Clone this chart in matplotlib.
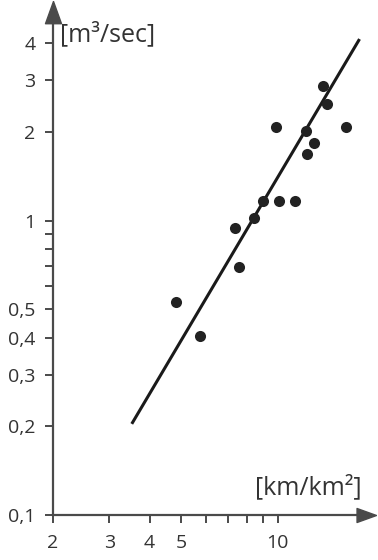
import matplotlib
matplotlib.use("Agg")
import matplotlib.pyplot as plt

# data (log-log)
density = [13.8, 14.2, 9.9, 16.3, 12.2, 13.0, 12.3, 9.0, 10.1, 11.3, 8.45, 7.35, 7.6, 4.83, 5.75]
discharge = [2.86, 2.49, 2.08, 2.08, 2.01, 1.84, 1.69, 1.17, 1.17, 1.17, 1.02, 0.945, 0.695, 0.528, 0.406]

fit_x = [3.52, 17.94]
fit_y = [0.204, 4.14]

xticks = [2, 3, 4, 5, 10]
xticklabels = ["2", "3", "4", "5", "10"]
xminor = [6, 7, 8, 9]
yticks = [0.1, 0.2, 0.3, 0.4, 0.5, 1, 2, 3, 4]
yticklabels = ["0,1", "0,2", "0,3", "0,4", "0,5", "1", "2", "3", "4"]
yminor = [0.6, 0.7, 0.8, 0.9]

axis_col = "#4a4a4a"
text_col = "#333333"

plt.rcParams["font.family"] = ["Open Sans", "DejaVu Sans"]

W, H = 378, 560
fig = plt.figure(figsize=(W / 100, H / 100), dpi=100)
x0, x1 = 52.7, 362
y0, y1 = 515, 17
ax = fig.add_axes([x0 / W, 1 - y0 / H, (x1 - x0) / W, (y0 - y1) / H])

ax.set_xscale("log")
ax.set_yscale("log")
ax.set_xlim(2, 18.26)
ax.set_ylim(0.1, 4.92)

ax.plot(fit_x, fit_y, color="#1a1a1a", lw=2.2, solid_capstyle="butt")
ax.plot(density, discharge, "o", color="#222222", ms=8, mec="none")

ax.set_xticks(xticks)
ax.set_xticklabels(xticklabels)
ax.set_xticks(xminor, minor=True)
ax.set_xticklabels([], minor=True)
ax.set_yticks(yticks)
ax.set_yticklabels(yticklabels)
ax.set_yticks(yminor, minor=True)
ax.set_yticklabels([], minor=True)

for s in ["top", "right"]:
    ax.spines[s].set_visible(False)
for s in ["left", "bottom"]:
    ax.spines[s].set_color(axis_col)
    ax.spines[s].set_linewidth(1.6)

ax.tick_params(which="both", length=5.5, width=1.4, color=axis_col,
               labelsize=14, labelcolor=text_col)
ax.tick_params(axis="x", pad=8.5)
ax.tick_params(axis="y", pad=7)

# arrow heads on the axes
up = [(0, 0), (-0.36, -1), (0.36, -1), (0, 0)]
right = [(0, 0), (-1, 0.36), (-1, -0.36), (0, 0)]
ax.plot([0], [1.0 + 16 / (y0 - y1)], marker=up, ms=32, color=axis_col,
        transform=ax.transAxes, clip_on=False)
ax.plot([1.0 + 14 / (x1 - x0)], [0], marker=right, ms=28, color=axis_col,
        transform=ax.transAxes, clip_on=False)

fig.text(60 / W, 1 - 34 / H, "[m³/sec]", ha="left", va="center",
         fontsize=18, color=text_col)
fig.text(362 / W, 1 - 487 / H, "[km/km²]", ha="right", va="center",
         fontsize=18, color=text_col)

fig.savefig("out.png", dpi=100)
